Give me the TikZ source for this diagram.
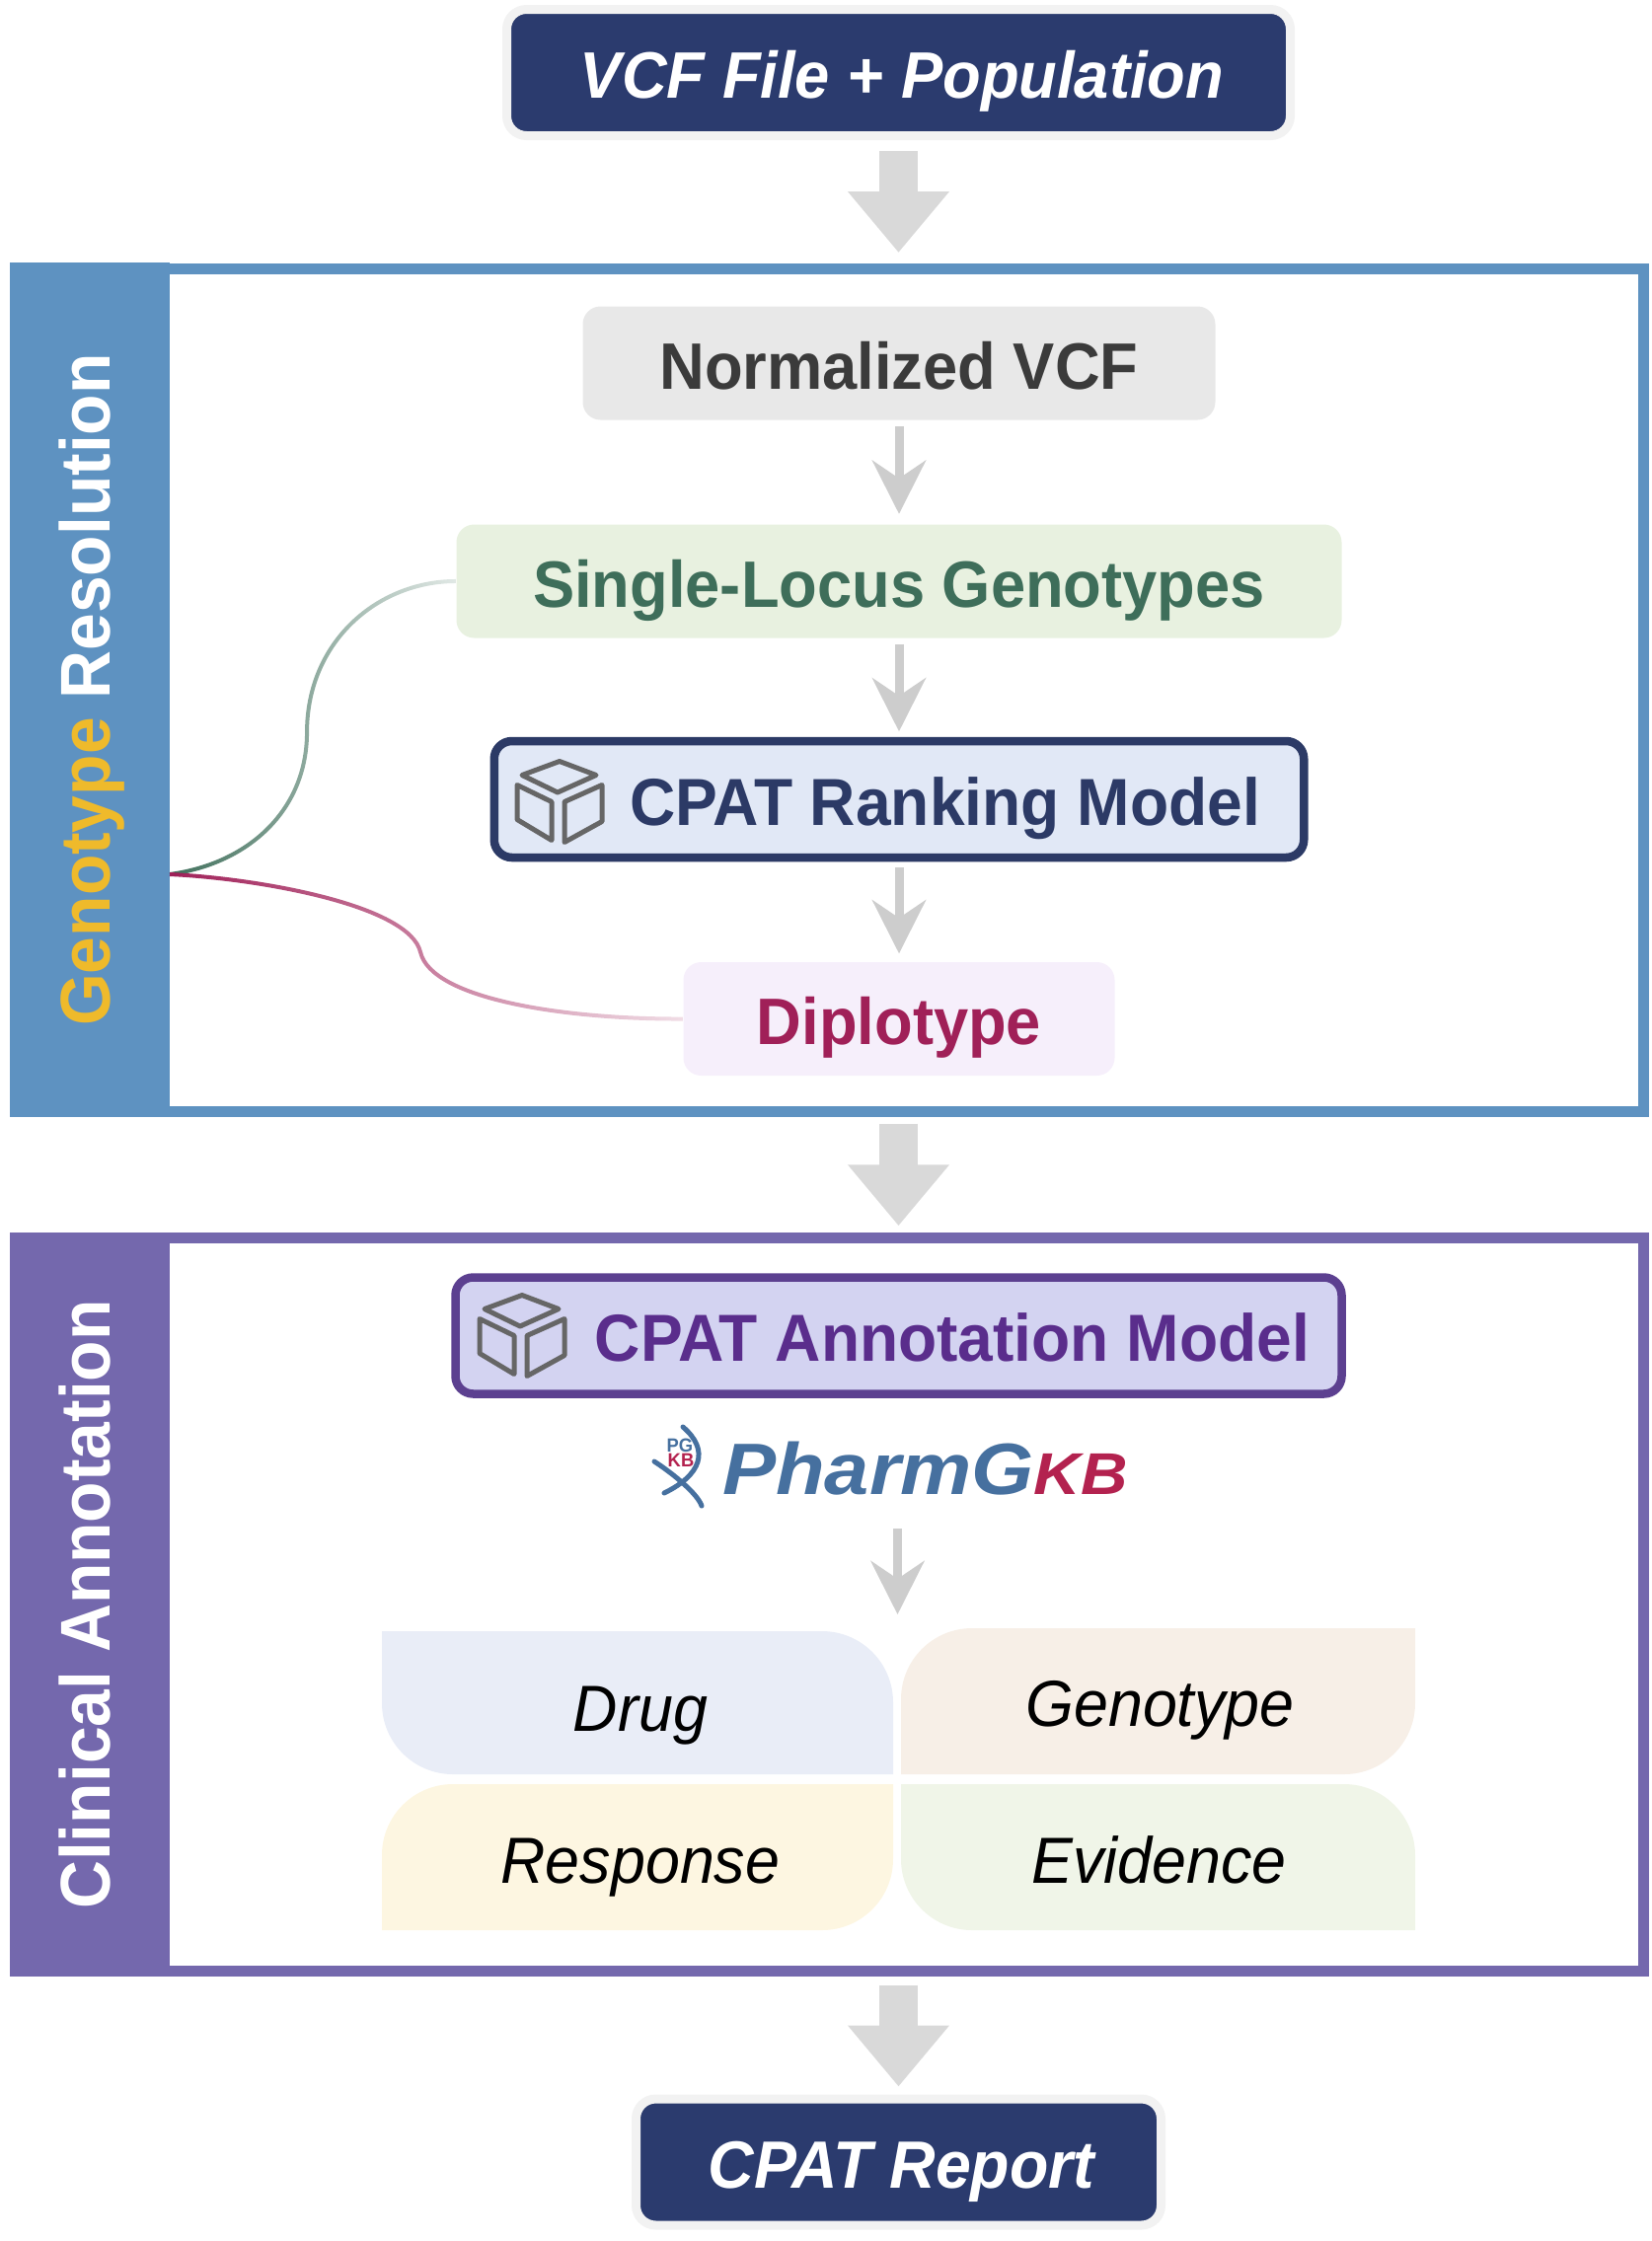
\documentclass[tikz,border=0pt]{standalone}
\usepackage{fontspec}
\setmainfont[FakeStretch=.95]{Liberation Sans}
\newfontfamily\logofont[FakeStretch=1.1]{Liberation Sans}
\usetikzlibrary{arrows.meta,fadings}

\definecolor{navyfill}{HTML}{2B3B6E}
\definecolor{halogrey}{HTML}{F2F2F2}
\definecolor{thickgrey}{HTML}{D9D9D9}
\definecolor{thingrey}{HTML}{CDCDCD}
\definecolor{iconGrey}{HTML}{666666}
\definecolor{genoblue}{HTML}{5E92C1}
\definecolor{clinpurple}{HTML}{7468AD}
\definecolor{genoyellow}{HTML}{EFBA2B}
\definecolor{locusgreen}{HTML}{3E6E5A}
\definecolor{locusfill}{HTML}{E8F1E0}
\definecolor{normfill}{HTML}{E8E8E8}
\definecolor{normtext}{HTML}{3B3B3B}
\definecolor{rankfill}{HTML}{E1E8F6}
\definecolor{rankline}{HTML}{2C3A66}
\definecolor{diplotext}{HTML}{A02058}
\definecolor{diplofill}{HTML}{F6EFFB}
\definecolor{annofill}{HTML}{D3D3F1}
\definecolor{annoline}{HTML}{5C4090}
\definecolor{annotext}{HTML}{5A2D8C}
\definecolor{drugfill}{HTML}{E9EDF7}
\definecolor{genofill}{HTML}{F7EFE7}
\definecolor{respfill}{HTML}{FDF6E1}
\definecolor{evidfill}{HTML}{F0F5E8}
\definecolor{pharmblue}{HTML}{46709F}
\definecolor{pharmred}{HTML}{B3224F}

\tikzfading[name=fadeout, left color=transparent!0, right color=transparent!85]

\begin{document}
\begin{tikzpicture}[endnode/.style={rectangle,
					rounded corners=.2cm,
					line width=.09cm,
					draw=halogrey,
					fill=navyfill,
					text=white,
					inner sep=0pt,
					text height=.52cm,
					text depth=0cm,
					font=\fontsize{18.95}{20}\selectfont\bfseries\itshape},
					stepnode/.style={rectangle,
					rounded corners=.18cm,
					inner sep=0pt,
					text height=.52cm,
					text depth=0cm,
					font=\fontsize{18.95}{20}\selectfont\bfseries},
					modelnode/.style={stepnode,
					line width=.085cm,
					font=\fontsize{19.2}{20}\selectfont\bfseries},
					framenode/.style={rectangle,
					line width=.11cm,
					minimum width=16.48cm},
					bandnode/.style={rectangle,
					rotate=90,
					inner sep=0pt,
					minimum height=1.62cm,
					text=white,
					text height=.51cm,
					text depth=.09cm,
					font=\fontsize{20.3}{22}\selectfont\bfseries},
					leafnode/.style={anchor=base,
					inner sep=0pt,
					font=\fontsize{18.8}{20}\selectfont\itshape},
					thickarrow/.style={-{Triangle[length=.62cm,width=.99cm]},
					line width=.39cm,
					draw=thickgrey},
					thinarrow/.style={-{Stealth[length=.54cm,width=.54cm,inset=.18cm]},
					line width=.09cm,
					draw=thingrey},
					cubeicon/.pic={
					\draw[iconGrey, line width=.05cm, line join=round]
						(-.37,.27) -- (.01,.41) -- (.38,.27) -- (-.01,.095) -- cycle
						(-.42,.17) -- (-.07,0) -- (-.07,-.39) -- (-.42,-.18) -- cycle
						(.06,0) -- (.44,.17) -- (.44,-.20) -- (.06,-.41) -- cycle;
					}
					]

\useasboundingbox (0,0) rectangle (16.74,-22.71);

%input and report nodes
\node[endnode, minimum width=7.94cm, minimum height=1.28cm] (vcfNode) at (9.105,-.735) {\hspace*{.07cm}VCF File + Population};
\node[endnode, minimum width=5.32cm, minimum height=1.28cm, font=\fontsize{19.3}{20}\selectfont\bfseries\itshape] (reportNode) at (9.105,-21.91) {\hspace*{.06cm}CPAT Report};

%frames
\node[framenode, draw=genoblue, minimum height=8.535cm] (genoFrame) at (8.41,-6.9925) {};
\node[framenode, draw=clinpurple, minimum height=7.425cm] (clinFrame) at (8.41,-16.26) {};

%side bands
\node[bandnode, fill=genoblue, minimum width=8.66cm] (genoBand) at (.905,-6.99) {\textcolor{genoyellow}{Genotype} Resolution};
\node[bandnode, fill=clinpurple, minimum width=7.545cm] (clinBand) at (.905,-16.26) {Clinical Annotation};

%genotype nodes
\node[stepnode, fill=normfill, text=normtext, minimum width=6.41cm, minimum height=1.15cm] (normNode) at (9.11,-3.68) {Normalized VCF};
\node[stepnode, fill=locusfill, text=locusgreen, minimum width=8.97cm, minimum height=1.15cm] (locusNode) [below of = normNode, node distance=2.21cm] {Single-Locus Genotypes};
\node[modelnode, draw=rankline, fill=rankfill, text=rankline, minimum width=8.205cm, minimum height=1.18cm] (rankNode) [below of = locusNode, node distance=2.21cm] {\hspace*{.93cm}CPAT Ranking Model};
\node[stepnode, fill=diplofill, text=diplotext, minimum width=4.37cm, minimum height=1.15cm] (diploNode) [below of = rankNode, node distance=2.225cm] {Diplotype};
\pic at (5.66,-8.125) {cubeicon};

%annotation nodes
\node[modelnode, draw=annoline, fill=annofill, text=annotext, minimum width=8.98cm, minimum height=1.18cm] (annoNode) at (9.105,-13.535) {\hspace*{1.09cm}CPAT Annotation Model};
\pic at (5.28,-13.535) {cubeicon};

%pharmgkb logo
\node[anchor=base, inner sep=0pt] (pharmNode) at (9.375,-15.14) {\logofont\bfseries\itshape\fontsize{21}{24}\selectfont\textcolor{pharmblue}{PharmG}\fontsize{17}{24}\selectfont\textcolor{pharmred}{KB}};
\draw[pharmblue, line width=.05cm, line cap=round] (6.92,-14.46) .. controls (7.2,-14.70) and (7.1,-14.95) .. (6.73,-15.13);
\draw[pharmblue, line width=.05cm, line cap=round] (6.63,-14.81) .. controls (6.83,-14.94) and (7.07,-15.14) .. (7.11,-15.26);
\node[inner sep=0pt, font=\fontsize{5.5}{6}\selectfont\bfseries, text=pharmblue] (pgLabel) at (6.89,-14.65) {PG};
\node[inner sep=0pt, font=\fontsize{5.5}{6}\selectfont\bfseries, text=pharmred] (kbLabel) at (6.90,-14.80) {KB};

%quadrants
\fill[drugfill] (3.87,-16.53) -- (8.33,-16.53) arc (90:0:.72) -- (9.05,-17.98) -- (4.59,-17.98) arc (270:180:.72) -- cycle;
\fill[genofill] (9.85,-16.50) -- (14.34,-16.50) -- (14.34,-17.26) arc (0:-90:.72) -- (9.13,-17.98) -- (9.13,-17.22) arc (180:90:.72) -- cycle;
\fill[respfill] (4.59,-18.08) -- (9.05,-18.08) -- (9.05,-18.84) arc (0:-90:.72) -- (3.87,-19.56) -- (3.87,-18.80) arc (180:90:.72) -- cycle;
\fill[evidfill] (9.13,-18.08) -- (13.62,-18.08) arc (90:0:.72) -- (14.34,-19.56) -- (9.85,-19.56) arc (270:180:.72) -- cycle;
\node[leafnode] (drugNode) at (6.49,-17.54) {Drug};
\node[leafnode] (genotypeNode) at (11.755,-17.49) {Genotype};
\node[leafnode] (responseNode) at (6.49,-19.08) {Response};
\node[leafnode] (evidenceNode) at (11.745,-19.08) {Evidence};

%thick paths
\draw[thickarrow, shorten <=.11cm, shorten >=.11cm] (vcfNode.south) -- (vcfNode.south |- genoFrame.north);
\draw[thickarrow, shorten <=.07cm, shorten >=.07cm] (vcfNode.south |- genoFrame.south) -- (vcfNode.south |- clinFrame.north);
\draw[thickarrow, shorten <=.09cm, shorten >=.08cm] (vcfNode.south |- clinFrame.south) -- (vcfNode.south |- reportNode.north);

%thin paths
\draw[thinarrow, shorten <=.055cm, shorten >=.10cm] (normNode) -- (locusNode);
\draw[thinarrow, shorten <=.055cm, shorten >=.055cm] (locusNode) -- (rankNode);
\draw[thinarrow, shorten <=.06cm, shorten >=.08cm] (rankNode) -- (diploNode);
\coordinate (quadTop) at (9.095,-16.36);
\draw[thinarrow, shorten <=.34cm] (quadTop |- pharmNode.south) -- (quadTop);

%branch curves
\coordinate (branchStart) at (1.72,-8.86);
\path[draw=locusgreen, line width=.04cm, path fading=fadeout] (branchStart) .. controls (2.53,-8.75) and (3.11,-8.20) .. (3.11,-7.42) .. controls (3.11,-6.50) and (3.83,-5.89) .. (locusNode.west);
\path[draw=diplotext, line width=.04cm, path fading=fadeout] (branchStart) .. controls (2.60,-8.90) and (4.15,-9.17) .. (4.26,-9.65) .. controls (4.37,-10.12) and (5.70,-10.33) .. (diploNode.west);
\end{tikzpicture}
\end{document}
